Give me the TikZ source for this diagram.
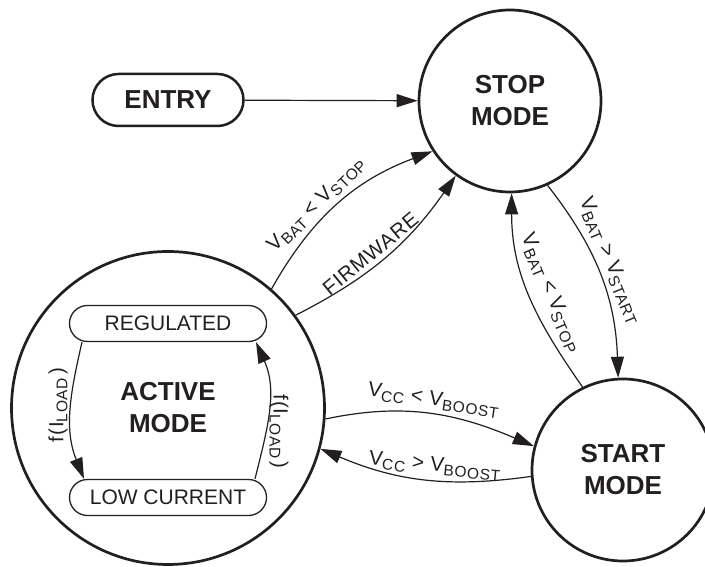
\documentclass[tikz,border=0pt]{standalone}
\usepackage{fontspec}
\setmainfont{Liberation Sans}
\newfontfamily\lblfont[LetterSpace=4]{Liberation Sans}
\usetikzlibrary{arrows.meta,shapes.misc}
\definecolor{ink}{HTML}{231F20}
\newcommand{\sbs}[1]{\raisebox{-4bp}{\fontsize{15.5bp}{16bp}\selectfont #1}}
\begin{document}
\begin{tikzpicture}[x=1bp,y=1bp,
  modecircle/.style={circle, draw=ink, line width=2.7bp, minimum size=#1, inner sep=0pt, align=center,
    font=\fontsize{26bp}{32bp}\selectfont\bfseries, text=ink},
  substate/.style={rounded rectangle, draw=ink, line width=1.3bp, minimum width=197bp, minimum height=36bp,
    inner sep=0pt, font=\fontsize{21bp}{24bp}\selectfont, text=ink},
  entrybox/.style={rounded rectangle, draw=ink, line width=2.5bp, minimum width=151bp, minimum height=52bp,
    inner sep=0pt, font=\fontsize{26bp}{30bp}\selectfont\bfseries, text=ink},
  conn/.style={draw=ink, line width=1.2bp, -{Triangle[length=21bp,width=13bp]}},
  lbl/.style={font=\lblfont\fontsize{20.5bp}{22bp}\selectfont, text=ink, inner sep=4.5bp}]
\useasboundingbox (0,0) rectangle (705,567);
\fill[white] (0,0) rectangle (705,567);

\node[modecircle=182bp] (stop) at (510,466) {STOP\\MODE};
\node[modecircle=182bp] (start) at (623,97) {START\\MODE};
\node[modecircle=313bp] (active) at (168,159) {ACTIVE\\MODE};
\node[entrybox] (entry) at (168,467) {ENTRY};
\node[substate] (reg) at (168,243.5) {REGULATED};
\node[substate] (low) at (168,69.5) {LOW CURRENT};

\draw[conn] (entry) -- (stop);
\draw[conn] (active.49) to[bend left=20]
  node[sloped, above, pos=0.42, lbl] {V\sbs{BAT} < V\sbs{STOP}} (stop.213);
\draw[conn] (active.36) to[bend right=14]
  node[sloped, above, pos=0.45, lbl] {FIRMWARE} (stop.234);
\draw[conn] (stop.294) to[out=-52, in=92]
  node[sloped, above, pos=0.45, lbl] {V\sbs{BAT} > V\sbs{START}} (start.93);
\draw[conn] (start.116) to[out=125, in=-90]
  node[sloped, above=6bp, pos=0.47, lbl] {V\sbs{BAT} < V\sbs{STOP}} (stop.271);
\draw[conn] (active.-4) to[out=12, in=157]
  node[sloped, above, pos=0.5, lbl] {V\sbs{CC} < V\sbs{BOOST}} (start.165);
\draw[conn] (start.184) to[out=188, in=-23]
  node[sloped, above, pos=0.45, lbl] {V\sbs{CC} > V\sbs{BOOST}} (active.-15);
\draw[conn] ([xshift=-86bp]reg.south) to[out=-103, in=112]
  node[pos=0.45, rotate=90, anchor=south, lbl, inner sep=3bp] {f(I\sbs{LOAD}\,)} ([xshift=-84bp]low.north);
\draw[conn] ([xshift=87bp]low.north) to[out=76, in=-66]
  node[pos=0.33, rotate=-90, anchor=south, lbl, inner sep=3bp] {f(I\sbs{LOAD}\,)} ([xshift=88bp]reg.south);
\end{tikzpicture}
\end{document}
